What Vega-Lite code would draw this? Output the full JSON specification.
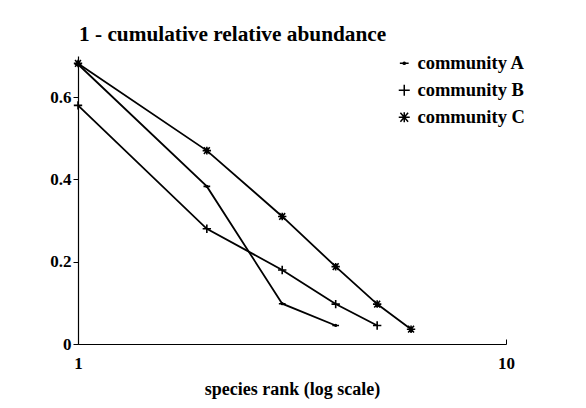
{
  "$schema": "https://vega.github.io/schema/vega-lite/v6.json",
  "width": 428,
  "height": 288,
  "autosize": {"type": "none"},
  "padding": {"left": 78, "top": 56, "right": 80, "bottom": 64},
  "background": "white",
  "title": {"text": "1 - cumulative relative abundance", "anchor": "start", "frame": "group", "baseline": "alphabetic", "offset": 13, "dx": 1, "dy": 21, "font": "Liberation Serif", "fontSize": 21.3, "fontWeight": "bold", "color": "black"},
  "config": {"view": {"stroke": null}, "font": "Liberation Serif"},
  "data": {"values": [
    {"community": "community A", "rank": 1, "abundance": 0.68},
    {"community": "community A", "rank": 2, "abundance": 0.383},
    {"community": "community A", "rank": 3, "abundance": 0.098},
    {"community": "community A", "rank": 4, "abundance": 0.045},
    {"community": "community B", "rank": 1, "abundance": 0.58},
    {"community": "community B", "rank": 2, "abundance": 0.28},
    {"community": "community B", "rank": 3, "abundance": 0.18},
    {"community": "community B", "rank": 4, "abundance": 0.097},
    {"community": "community B", "rank": 5, "abundance": 0.045},
    {"community": "community C", "rank": 1, "abundance": 0.682},
    {"community": "community C", "rank": 2, "abundance": 0.47},
    {"community": "community C", "rank": 3, "abundance": 0.31},
    {"community": "community C", "rank": 4, "abundance": 0.188},
    {"community": "community C", "rank": 5, "abundance": 0.097},
    {"community": "community C", "rank": 6, "abundance": 0.036}
  ]},
  "encoding": {
    "x": {"field": "rank", "type": "quantitative", "scale": {"type": "log", "domain": [1, 10], "nice": false},
      "axis": {"values": [1, 10], "format": "d", "title": "species rank (log scale)", "grid": false,
        "labelFont": "Liberation Serif", "labelFontSize": 17, "labelFontWeight": "bold", "labelColor": "black", "labelFlush": false,
        "labelPadding": 16, "tickSize": -5, "tickColor": "black", "domainColor": "black", "domainWidth": 1.2,
        "titleFont": "Liberation Serif", "titleFontSize": 18, "titleFontWeight": "bold", "titleColor": "black", "titlePadding": 9}},
    "y": {"field": "abundance", "type": "quantitative", "scale": {"domain": [0, 0.7], "nice": false},
      "axis": {"values": [0, 0.2, 0.4, 0.6], "format": "~g", "title": null, "grid": false,
        "labelFont": "Liberation Serif", "labelFontSize": 17, "labelFontWeight": "bold", "labelColor": "black",
        "labelPadding": 2, "tickSize": 5, "tickColor": "black", "domainColor": "black", "domainWidth": 1.2}}
  },
  "layer": [
    {"mark": {"type": "line", "color": "black", "strokeWidth": 1.8},
     "encoding": {"detail": {"field": "community"}, "order": {"field": "rank"}}},
    {"mark": {"type": "point", "filled": false, "color": "black", "strokeWidth": 1.6, "size": 70, "opacity": 1},
     "encoding": {"shape": {"field": "community", "type": "nominal",
       "scale": {"domain": ["community A", "community B", "community C"],
                 "range": ["M-0.8,0L0.8,0M0.2,0A0.2,0.2,0,1,1,-0.2,0A0.2,0.2,0,1,1,0.2,0Z", "M-1,0L1,0M0,-1L0,1", "M-1,0L1,0M-0.7,-0.8L0.7,0.8M-0.7,0.8L0.7,-0.8M0,-0.9L0,0.9"]},
       "legend": {"orient": "none", "legendX": 317, "legendY": -2, "title": null, "padding": 0,
         "labelFont": "Liberation Serif", "labelFontSize": 18.5, "labelFontWeight": "bold", "labelColor": "black",
         "labelOffset": 4, "rowPadding": 8, "symbolSize": 121, "symbolStrokeWidth": 1.5, "symbolStrokeColor": "black"}}}
    }
  ]
}
